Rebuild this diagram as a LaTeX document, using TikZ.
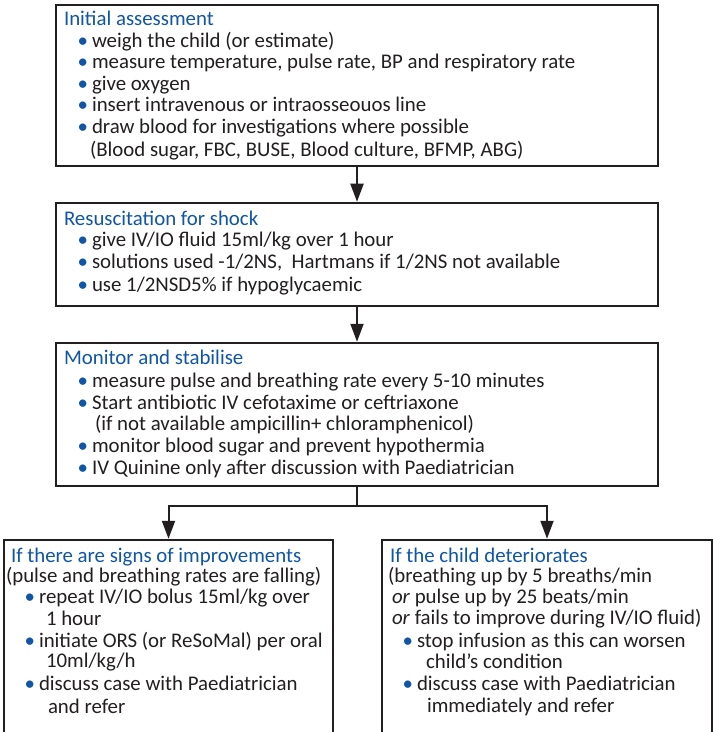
\documentclass[tikz,border=0pt]{standalone}
\usepackage{fontspec}
\setmainfont{Carlito}
\usetikzlibrary{arrows.meta}
\definecolor{tblue}{RGB}{16,86,164}
\definecolor{ink}{RGB}{35,31,32}
\newcommand{\bul}{\llap{\textcolor{tblue}{•}\hspace{4bp}}}
\begin{document}
\begin{tikzpicture}[x=1bp,y=-1bp,
  box/.style={draw=ink, line width=2.5bp, inner sep=0, fill=none},
  conn/.style={draw=ink, line width=2bp},
  arr/.style={conn, -{Triangle[length=18bp,width=13bp]}},
  txt/.style={anchor=base west, inner sep=0, outer sep=0, text=ink,
              font=\fontsize{20.85bp}{24bp}\selectfont},
  ttl/.style={txt, text=tblue}]
\useasboundingbox (0,0) rectangle (713,732);
\clip (0,0) rectangle (713,732);
\fill[white] (0,0) rectangle (713,732);

% boxes
\node[box, minimum width=602bp, minimum height=161bp] (b1) at (357,85.5) {};
\node[box, minimum width=602bp, minimum height=103bp] (b2) at (357,254.5) {};
\node[box, minimum width=602bp, minimum height=143bp] (b3) at (357,414.5) {};
\node[box, minimum width=329bp, minimum height=210bp] (b4) at (168.5,645) {};
\node[box, minimum width=330bp, minimum height=210bp] (b5) at (547,645) {};

% connectors
\coordinate (j) at (357,506);
\draw[arr] (b1.south) -- (b2.north);
\draw[arr] (b2.south) -- (b3.north);
\draw[conn] (b3.south) -- (j);
\draw[arr] (j) -| (b4.north);
\draw[arr] (j) -| (b5.north);

% box 1
\node[ttl] (t1) at (64,26) {Initial assessment};
\node[txt] (t1a) at (92,48) {\bul weigh the child (or estimate)};
\node[txt] (t1b) at (92,69) {\bul measure temperature, pulse rate, BP and respiratory rate};
\node[txt] (t1c) at (92,91) {\bul give oxygen};
\node[txt] (t1d) at (92,112) {\bul insert intravenous or intraosseouos line};
\node[txt] (t1e) at (92,134) {\bul draw blood for investigations where possible};
\node[txt] (t1f) at (90,156) {(Blood sugar, FBC, BUSE, Blood culture, BFMP, ABG)};

% box 2
\node[ttl] (t2) at (64,225) {Resuscitation for shock};
\node[txt] (t2a) at (92,246) {\bul give IV/IO fluid 15ml/kg over 1 hour};
\node[txt] (t2b) at (92,268) {\bul solutions used -1/2NS,\ \ Hartmans if 1/2NS not available};
\node[txt] (t2c) at (92,291) {\bul use 1/2NSD5\% if hypoglycaemic};

% box 3
\node[ttl] (t3) at (64,364) {Monitor and stabilise};
\node[txt] (t3a) at (92,387) {\bul measure pulse and breathing rate every 5-10 minutes};
\node[txt] (t3b) at (92,409) {\bul Start antibiotic IV cefotaxime or ceftriaxone};
\node[txt] (t3c) at (95,430) {(if not available ampicillin+ chloramphenicol)};
\node[txt] (t3d) at (92,452) {\bul monitor blood sugar and prevent hypothermia};
\node[txt] (t3e) at (92,474) {\bul IV Quinine only after discussion with Paediatrician};

% box 4
\node[ttl] (t4) at (11,562) {If there are signs of improvements};
\node[txt] (t4a) at (6,582) {(pulse and breathing rates are falling)};
\node[txt] (t4b) at (39,603) {\bul repeat IV/IO bolus 15ml/kg over};
\node[txt] (t4c) at (46,625) {1 hour};
\node[txt] (t4d) at (39,647) {\bul initiate ORS (or ReSoMal) per oral};
\node[txt] (t4e) at (46,667) {10ml/kg/h};
\node[txt] (t4f) at (39,690) {\bul discuss case with Paediatrician};
\node[txt] (t4g) at (48,713) {and refer};

% box 5
\node[ttl] (t5) at (390,562) {If the child deteriorates};
\node[txt] (t5a) at (388,582) {(breathing up by 5 breaths/min};
\node[txt] (t5b) at (392,603) {\textit{or} pulse up by 25 beats/min};
\node[txt] (t5c) at (392,624) {\textit{or} fails to improve during IV/IO fluid)};
\node[txt] (t5d) at (417,647) {\bul stop infusion as this can worsen};
\node[txt] (t5e) at (426,668) {child’s condition};
\node[txt] (t5f) at (417,690) {\bul discuss case with Paediatrician};
\node[txt] (t5g) at (427,712) {immediately and refer};
\end{tikzpicture}
\end{document}
